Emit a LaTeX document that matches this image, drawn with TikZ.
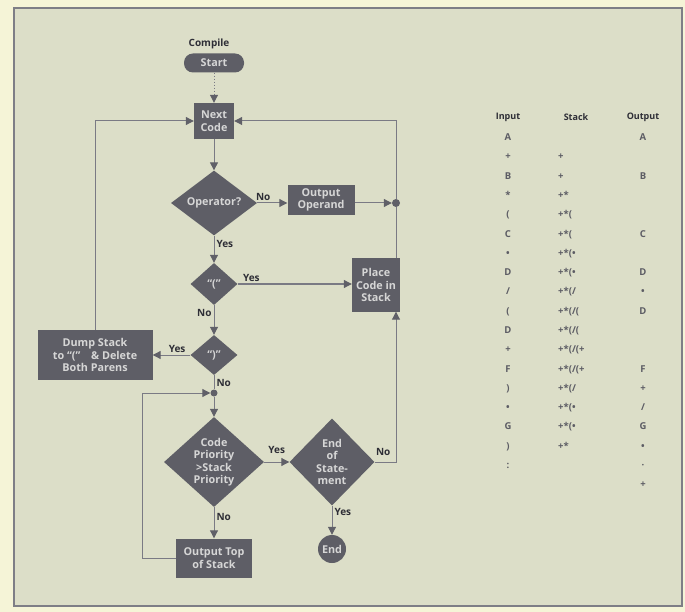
\documentclass[tikz,border=0pt]{standalone}
\usepackage{fontspec}
\setmainfont{Open Sans}
\usetikzlibrary{arrows.meta,positioning,shapes.geometric,calc}
\definecolor{paper}{HTML}{F5F4D7}
\definecolor{panel}{HTML}{DCDEC8}
\definecolor{frame}{HTML}{7E7E86}
\definecolor{boxfill}{HTML}{5E5E66}
\definecolor{boxtext}{HTML}{D6D6D6}
\definecolor{wire}{HTML}{7A7A84}
\definecolor{tipcol}{HTML}{606068}
\definecolor{lbltext}{HTML}{2E2E36}
\definecolor{tabtext}{HTML}{5C5C64}

\begin{document}
\begin{tikzpicture}[
  x=1pt, y=-1pt,
  >={Triangle[length=8pt,width=8pt,color=tipcol]},
  proc/.style={rectangle, fill=boxfill, text=boxtext, align=center, inner sep=1pt,
    font=\fontsize{10.8}{12.5}\selectfont\bfseries},
  decide/.style={diamond, fill=boxfill, text=boxtext, align=center, inner sep=0pt,
    font=\fontsize{10.8}{12.5}\selectfont\bfseries},
  dot/.style={circle, fill=tipcol, inner sep=0pt},
  wire/.style={draw=wire, line width=1pt},
  lbl/.style={font=\fontsize{10}{12}\selectfont\bfseries, text=lbltext, inner sep=2pt},
  hdr/.style={font=\fontsize{9}{10}\selectfont\bfseries, text=lbltext},
  col/.style={font=\fontsize{9.5}{19.28}\selectfont\bfseries, text=tabtext, inner sep=0pt},
]
% paper and frame
\fill[paper] (0,0) rectangle (685,612);
\draw[frame, line width=2pt, fill=panel] (14,8) rectangle (682,606);

% --- flowchart nodes ---
\node[lbl] (compile) at (209,44) {Compile};
\node[proc, rounded corners=9pt, minimum width=60pt, minimum height=19pt] (start) at (214,63) {Start};
\node[proc, minimum width=40pt, minimum height=36pt] (next) at (214,121) {Next\\Code};
\node[decide, minimum width=86pt, minimum height=60pt] (oper) at (214,203) {Operator?};
\node[proc, minimum width=67pt, minimum height=30pt] (opnd) at (321,200) {Output\\Operand};
\node[dot, minimum size=8pt] (split) at (396,203) {};
\node[decide, minimum width=47pt, minimum height=42pt] (lpar) at (214,284) {“(”};
\node[proc, minimum width=48pt, minimum height=53pt] (place) at (376,285) {Place\\Code in\\Stack};
\node[decide, minimum width=47pt, minimum height=40pt] (rpar) at (214,355) {“)”};
\node[proc, minimum width=115pt, minimum height=50pt] (dump) at (95,355)
  {Dump Stack\\to “(”\quad\& Delete\\Both Parens};
\node[dot, minimum size=7pt] (join) at (214,393) {};
\node[decide, minimum width=100pt, minimum height=90pt] (prio) at (214,462)
  {Code\\Priority\\>Stack\\Priority};
\node[decide, minimum width=85pt, minimum height=87pt] (eos) at (332,462) {End\\of\\State-\\ment};
\node[proc, minimum width=76pt, minimum height=39pt] (top) at (214,558) {Output Top\\of Stack};
\node[proc, circle, minimum size=28pt, inner sep=0pt] (endc) at (332,549) {End};

% --- main line ---
\draw[wire, dotted, ->] (start) -- (next);
\draw[wire, ->] (next) -- (oper);
\draw[wire, ->] (oper.east) -- node[lbl, above, pos=0.2]{No} (oper.east -| opnd.west);
\draw[wire, ->] (opnd.east |- split) -- (split);
\draw[wire, ->] (split) |- (next.east);
\draw[wire] (split) -- (split |- place.north);
\draw[wire, ->] (oper) -- node[lbl, right, pos=0.3]{Yes} (lpar);
\draw[wire, ->] (lpar.east) -- node[lbl, above, pos=0.12]{Yes} (lpar.east -| place.west);
\draw[wire, ->] (lpar) -- node[lbl, left, pos=0.25]{No} (rpar);
\draw[wire, ->] (rpar) -- node[lbl, above, pos=0.35]{Yes} (dump);
\draw[wire, ->] (dump.north) |- (next.west);
\draw[wire] (rpar) -- node[lbl, right, pos=0.55]{No} (join);

% --- priority loop ---
\draw[wire, ->] (join) -- (prio);
\draw[wire, ->] (prio) -- node[lbl, right, pos=0.3]{No} (top);
\draw[wire, ->] (top.west) -- ++(-33,0) |- (join);
\draw[wire, ->] (prio) -- node[lbl, above=6pt]{Yes} (eos);
\draw[wire, ->] (eos) -- node[lbl, right, pos=0.2]{Yes} (endc);
\draw[wire, ->] (eos.east) -| node[lbl, above=4pt, pos=0.2]{No} (split |- place.south);

% --- conversion table ---
\node[hdr] (hin) at (508,117) {Input};
\node[hdr] (hstack) at (576,117) {Stack};
\node[hdr] (hout) at (643,117) {Output};
\node[col, anchor=north, align=center] (cin) at (508,127)
  {\strut A\\+\\B\\*\\(\\C\\•\\D\\/\\(\\D\\+\\F\\)\\•\\G\\)\\:};
\node[col, anchor=north west, align=left] (cstack) at (558,127)
  {\strut\\+\\+\\+*\\+*(\\+*(\\+*(•\\+*(•\\+*(/\\+*(/(\\+*(/(\\+*(/(+\\+*(/(+\\+*(/\\+*(•\\+*(•\\+*};
\node[col, anchor=north, align=center] (cout) at (643,127)
  {\strut A\\\mbox{}\\B\\\mbox{}\\\mbox{}\\C\\\mbox{}\\D\\•\\D\\\mbox{}\\\mbox{}\\F\\+\\/\\G\\•\\·\\+};
\end{tikzpicture}
\end{document}
